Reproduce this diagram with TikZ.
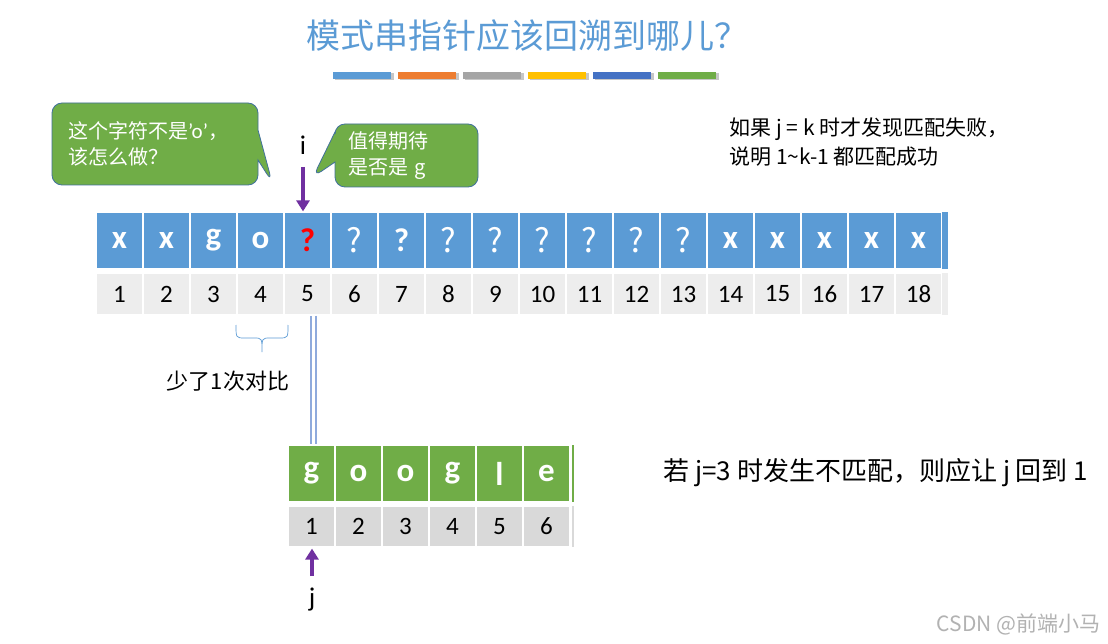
\documentclass[tikz,border=0pt]{standalone}
\usepackage{fontspec}
\setmainfont{Carlito}
\newfontfamily\cjk{Noto Sans CJK SC}
\usepackage{xcolor}
\usetikzlibrary{arrows.meta,positioning,shapes.callouts}

\definecolor{pptblue}{HTML}{5B9BD5}
\definecolor{pptorange}{HTML}{ED7D31}
\definecolor{pptgray}{HTML}{A5A5A5}
\definecolor{pptgold}{HTML}{FFC000}
\definecolor{pptdblue}{HTML}{4472C4}
\definecolor{pptgreen}{HTML}{70AD47}
\definecolor{pptpurple}{HTML}{7030A0}
\definecolor{bubbleline}{HTML}{41719C}
\definecolor{idxgray}{HTML}{EDEDED}
\definecolor{idxdgray}{HTML}{D9D9D9}
\definecolor{linkblue}{HTML}{8FAADC}

\newcommand\cellq{{\cjk\mdseries ?}}
\newcommand\redq{\textcolor{red}{?}}

\begin{document}
\begin{tikzpicture}[x=1pt,y=-1pt,
  chcell/.style={rectangle,draw=white,line width=1.2pt,inner sep=0pt,
                 minimum width=47pt,minimum height=57pt,text=white,
                 font=\fontsize{33}{35}\selectfont\bfseries},
  idxcell/.style={rectangle,draw=white,line width=1.2pt,inner sep=0pt,
                  minimum width=47pt,minimum height=42pt,
                  font=\fontsize{25}{27}\selectfont},
  bubble/.style={rectangle callout,rounded corners=10pt,fill=pptgreen,
                 draw=bubbleline,line width=0.8pt,text=white,align=left,
                 callout pointer width=30pt,inner ysep=0pt,
                 font=\cjk\fontsize{20}{26}\selectfont},
  parr/.style={-{Triangle[width=13pt,length=11pt]},line width=3.2pt,pptpurple},
  note/.style={align=left,font=\cjk\fontsize{21}{29}\selectfont}
]
\useasboundingbox[fill=white] (0,0) rectangle (1108,644);

% title and colour bars
\node[font=\cjk\fontsize{34}{38}\selectfont,text=pptblue] (title) at (527,36)
  {模式串指针应该回溯到哪儿？};
\foreach \c [count=\b from 0] in {pptblue,pptorange,pptgray,pptgold,pptdblue,pptgreen}{
  \fill[black!22] (334.5+65*\b,73.5) rectangle (393.5+65*\b,80.5);
  \fill[\c] (333+65*\b,72) rectangle (391+65*\b,79);
}

% main string
\foreach \ch [count=\k] in {x,x,g,o,\redq,\cellq,?,\cellq,\cellq,\cellq,\cellq,\cellq,\cellq,x,x,x,x,x}{
  \node[chcell,fill=pptblue] (t\k) at (119.5+47*\k-47,240.5) {\ch};
  \node[idxcell,fill=idxgray] (n\k) at (119.5+47*\k-47,294) {\k};
}
\fill[pptblue] (942,212) rectangle (948,269);
\fill[idxgray] (942,273) rectangle (948,315);

% pattern string
\foreach \ch [count=\k] in {g,o,o,g,l,e}{
  \node[chcell,fill=pptgreen] (p\k) at (311.5+47*\k-47,473.5) {\ch};
  \node[idxcell,fill=idxdgray,minimum height=41pt] (q\k) at (311.5+47*\k-47,526.5) {\k};
}
\fill[pptgreen] (572,445) rectangle (574,502);
\fill[idxdgray] (572,506) rectangle (574,547);

% pointers
\node[font=\fontsize{27}{29}\selectfont] (ilab) at (303,145) {i};
\coordinate (itop) at (303,167);
\draw[parr] (itop) -- (itop |- t5.north) ;
\node[font=\fontsize{27}{29}\selectfont] (jlab) at (312,600) {j};
\coordinate (jbot) at (312,576);
\draw[parr] (jbot) -- ([yshift=-1pt]jbot |- q1.south);

% link between the strings
\draw[linkblue,line width=2pt,double=white,double distance=3pt]
  ([xshift=1.5pt]p1.north |- n5.south) -- ([xshift=1.5pt]p1.north);

% brace
\draw[pptblue,line width=0.7pt] (236,325) .. controls (236,338) .. (245,338) -- (254,338)
  .. controls (262,338) .. (262,352) .. controls (262,338) .. (270,338) -- (279,338)
  .. controls (288,338) .. (288,325);
\node[font=\cjk\fontsize{22}{25}\selectfont] (fewer) at (228,381) {少了1次对比};

% speech bubbles
\node[bubble,text width=174pt,inner xsep=16pt,minimum height=82pt,
      callout absolute pointer={(272,182)}] (ask) at (155,144)
  {这个字符不是{\rmfamily\fontsize{21}{26}\selectfont ’o’}，\\该怎么做？};
\node[bubble,text width=117pt,inner xsep=13pt,minimum height=63pt,
      callout absolute pointer={(313,177)}] (hope) at (406.5,155.5)
  {值得期待\\是否是 g};

% notes
\node[note,anchor=west] (fail) at (726,142)
  {如果 j = k 时才发现匹配失败，\\说明 1\textasciitilde k-1 都匹配成功};
\node[note,anchor=west,font=\cjk\fontsize{26}{29}\selectfont] (back) at (660,473)
  {若 j=3 时发生不匹配，则应让 j 回到 1};
\node[anchor=east,text=black!30,font=\cjk\fontsize{21}{24}\selectfont] (mark) at (1104,624)
  {CSDN @前端小马};
\end{tikzpicture}
\end{document}
